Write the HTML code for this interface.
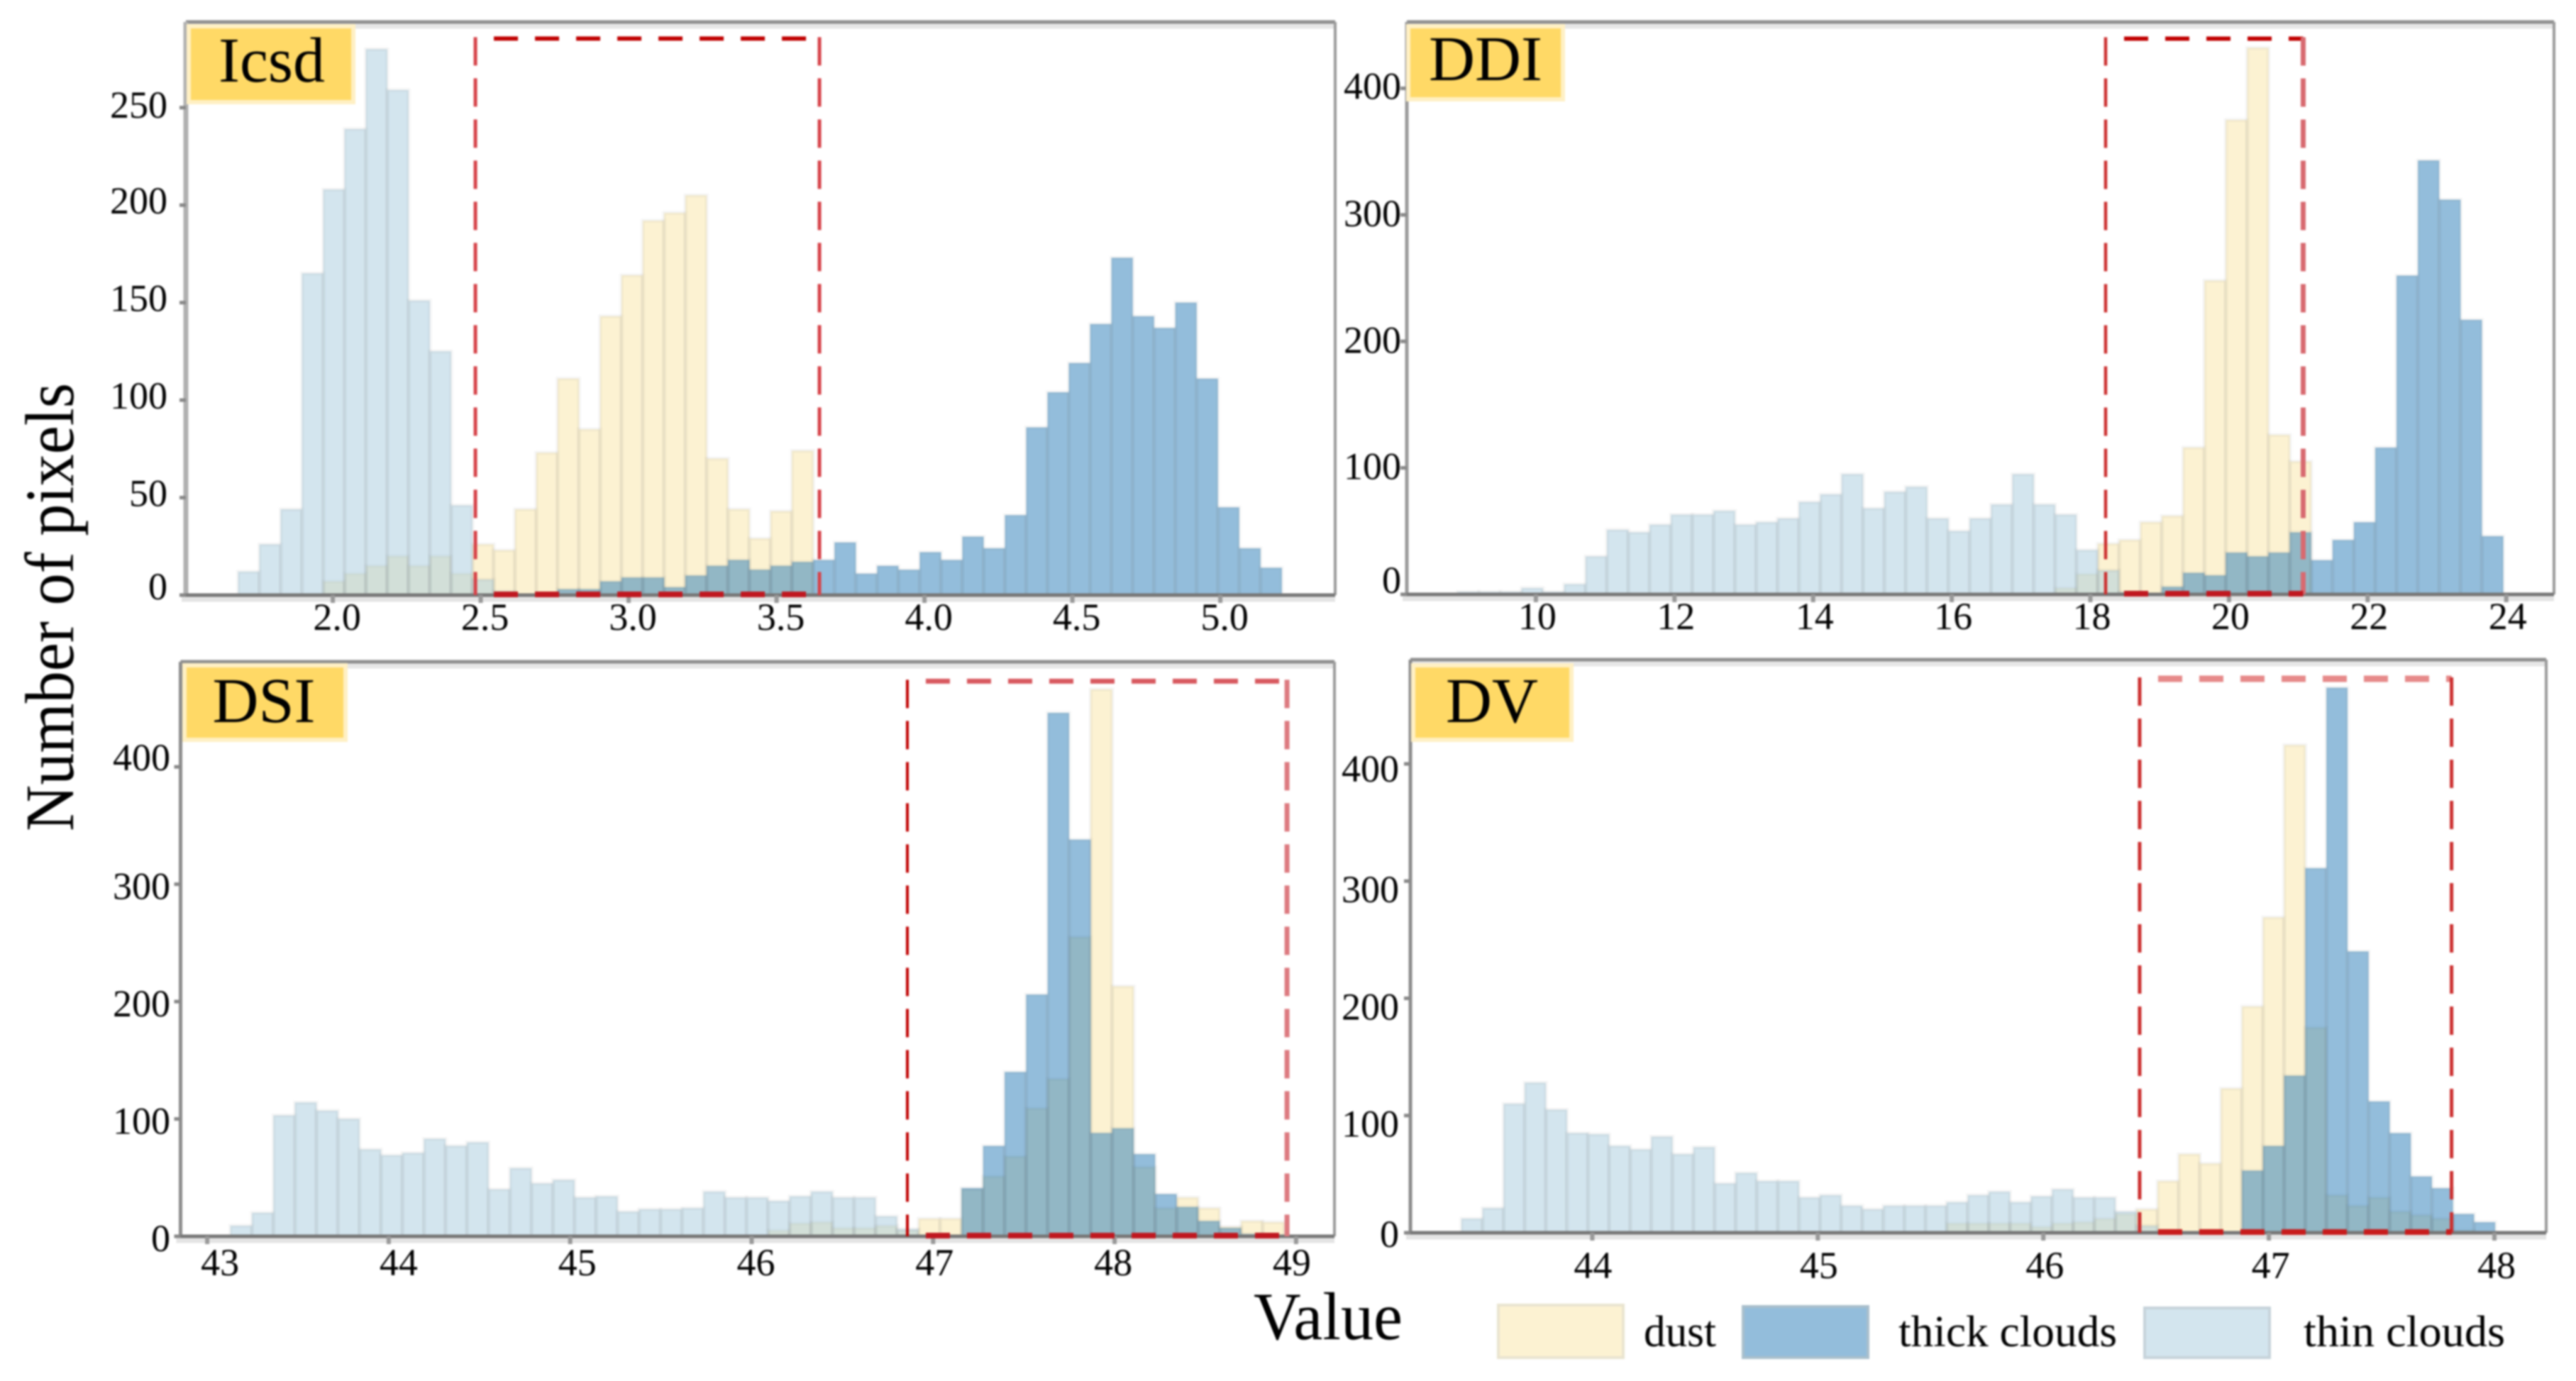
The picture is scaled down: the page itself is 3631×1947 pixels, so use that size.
<!DOCTYPE html>
<html><head><meta charset="utf-8"><title>Histograms</title>
<style>
html,body{margin:0;padding:0;background:#fff;width:3631px;height:1947px;overflow:hidden}
svg{display:block;filter:blur(1.3px)}
text{font-family:"Liberation Serif",serif;fill:#000}
</style></head><body>
<svg id="chart" xmlns="http://www.w3.org/2000/svg" width="3631" height="1947" viewBox="0 0 3631 1947">
<rect width="3631" height="1947" fill="#fff"/>
<g id="plots"></g>
<g><rect x="266" y="37" width="232" height="107" fill="#ffd966" stroke="#fff0c4" stroke-width="6"/><text x="383" y="115" font-size="90" text-anchor="middle">Icsd</text></g>
<g><rect x="1985" y="37" width="218" height="103" fill="#ffd966" stroke="#fff0c4" stroke-width="6"/><text x="2094" y="113" font-size="90" text-anchor="middle">DDI</text></g>
<g><rect x="260" y="938" width="227" height="105" fill="#ffd966" stroke="#fff0c4" stroke-width="6"/><text x="372" y="1018" font-size="90" text-anchor="middle">DSI</text></g>
<g><rect x="1992" y="938" width="223" height="105" fill="#ffd966" stroke="#fff0c4" stroke-width="6"/><text x="2103" y="1018" font-size="90" text-anchor="middle">DV</text></g>
<text transform="translate(103,1172) rotate(-90)" font-size="98" textLength="632" lengthAdjust="spacingAndGlyphs">Number of pixels</text>
<text x="1767" y="1888" font-size="95" textLength="210" lengthAdjust="spacingAndGlyphs">Value</text>
<g>
<rect x="2112" y="1840" width="176" height="74" fill="#fcf2d2" stroke="#e9e4d0" stroke-width="4"/>
<text x="2317" y="1898" font-size="62" textLength="102" lengthAdjust="spacingAndGlyphs">dust</text>
<rect x="2457" y="1842" width="176" height="72" fill="#93bddb" stroke="#a9bfcc" stroke-width="4"/>
<text x="2676" y="1898" font-size="62" textLength="308" lengthAdjust="spacingAndGlyphs">thick clouds</text>
<rect x="3023" y="1844" width="176" height="70" fill="#d3e5ee" stroke="#c6d3da" stroke-width="4"/>
<text x="3247" y="1898" font-size="62" textLength="284" lengthAdjust="spacingAndGlyphs">thin clouds</text>
</g>
</svg>
<script>
// Icsd panel
const icsdXTicks = ["2.0","2.5","3.0","3.5","4.0","4.5","5.0"];
const icsdYTicks = [0,50,100,150,200,250];
const icsdThin = [12,26,44,165,208,239,280,259,151,125,46,8,2,0,0,0,0,0,0,0,0,0,0,0,0,0,0,0,0,0,0,0,0,0,0,0,0,0,0,0,0,0,0,0,0,0,0,0,0];
const icsdDust = [0,0,0,0,7,11,15,20,15,20,11,26,23,44,73,111,85,143,164,192,196,205,70,44,29,43,74,0,0,0,0,0,0,0,0,0,0,0,0,0,0,0,0,0,0,0,0,0,0];
const icsdThick = [0,0,0,0,0,0,0,0,0,0,0,0,0,0,0,3,3,7,9,9,4,10,15,18,13,15,17,18,27,11,15,13,22,18,30,24,41,86,104,119,139,173,143,137,150,111,45,24,14];
// DDI panel
const ddiXTicks = ["10","12","14","16","18","20","22","24"];
const ddiYTicks = [0,100,200,300,400];
const ddiThin = [2,2,2,5,2,8,30,51,49,55,63,63,66,55,57,60,73,79,95,68,81,85,60,50,60,71,95,71,63,35,19,2,0,0,0,0,0,0,0,0,0,0,0,0,0,0,0,0,0];
const ddiDust = [0,0,0,0,0,0,0,0,0,0,0,0,0,0,0,0,0,0,0,0,0,0,0,0,0,0,0,0,5,16,40,43,57,62,116,248,375,432,126,105,0,0,0,0,0,0,0,0,0];
const ddiThick = [0,0,0,0,0,0,0,0,0,0,0,0,0,0,0,0,0,0,0,0,0,0,0,0,0,0,0,0,0,0,0,0,0,6,17,15,33,30,33,49,27,43,57,116,252,343,312,217,46];
// DSI panel
const dsiXTicks = ["43","44","45","46","47","48","49"];
const dsiYTicks = [0,100,200,300,400];
const dsiThin = [9,20,103,114,107,100,74,69,71,83,77,80,40,58,45,48,33,34,21,23,23,24,38,33,33,30,34,38,33,33,17,6,0,0,0,0,0,0,0,0,0,0,0,0,0,0,0,0,0];
const dsiDust = [0,0,0,0,0,0,0,0,0,0,0,0,0,0,0,0,0,0,0,0,0,0,0,0,0,5,11,12,7,7,9,5,15,15,40,51,68,109,134,255,466,213,59,24,33,24,8,13,12];
const dsiThick = [0,0,0,0,0,0,0,0,0,0,0,0,0,0,0,0,0,0,0,0,0,0,0,0,0,0,0,0,0,0,0,0,0,0,41,77,140,206,446,338,88,92,70,36,25,13,7,2,0];
// DV panel
const dvXTicks = ["44","45","46","47","48"];
const dvYTicks = [0,100,200,300,400];
const dvThin = [12,21,110,128,105,85,84,74,71,82,67,73,42,51,44,44,30,32,23,20,23,23,23,26,32,35,26,31,37,30,30,18,6,0,0,0,0,0,0,0,0,0,0,0,0,0,0,0,0];
const dvDust = [0,0,0,0,0,0,0,0,0,0,0,0,0,0,0,0,0,0,0,0,0,0,0,8,8,8,8,5,8,9,12,16,20,44,67,59,123,193,269,416,175,32,23,30,18,15,12,2,0];
const dvThick = [0,0,0,0,0,0,0,0,0,0,0,0,0,0,0,0,0,0,0,0,0,0,0,0,0,0,0,0,0,0,0,0,0,0,0,0,0,53,74,134,311,465,240,112,85,48,38,16,9];

const NS = 'http://www.w3.org/2000/svg';
const plots = document.getElementById('plots');

const panels = [
 {id:'icsd',l:262,r:1882,t:31,b:839,x0:2,xPx:469.1,xK:417,yK:2.749,binStart:1.68,binW:0.0720,
  xTicks:icsdXTicks,yTicks:icsdYTicks,thin:icsdThin,dust:icsdDust,thick:icsdThick,
  lblDy:31,lblA:6,lblB:6,yRight:236,zeroDy:-12,midDy:-6,topDy:-4,box:[2.482,3.645,285.4],spineL:'#b0b0b0',spineW:7,
  side:{top:['#c00000',6],left:['#d6444a',5],right:['#d6444a',5],bottom:['#c01820',8]}},
 {id:'ddi',l:1983,r:3600,t:31,b:838,x0:10,xPx:2164.9,xK:97.7,yK:1.7836,binStart:8.87,binW:0.3079,
  xTicks:ddiXTicks,yTicks:ddiYTicks,thin:ddiThin,dust:ddiDust,thick:ddiThick,
  lblDy:31,lblA:2,lblB:2,yRight:1975,zeroDy:-20,midDy:-2,topDy:-3,box:[18.22,21.07,439.3],spineL:'#9a9a9a',spineW:5,
  side:{top:['#c00000',6],left:['#cc3030',4.5],right:['#d86a70',7],bottom:['#c01820',8]}},
 {id:'dsi',l:254.5,r:1881,t:933,b:1743,x0:43,xPx:292.1,xK:255.8,yK:1.6546,binStart:43.128,binW:0.1185,
  xTicks:dsiXTicks,yTicks:dsiYTicks,thin:dsiThin,dust:dsiDust,thick:dsiThick,
  lblDy:37,lblA:18,lblB:-6,yRight:240,zeroDy:3,midDy:3,topDy:-13,box:[46.858,48.95,473],spineL:'#8c8c8c',spineW:5,
  side:{top:['#d85a60',7],left:['#c00000',4],right:['#dd7a80',7],bottom:['#c01820',8]}},
 {id:'dv',l:1988,r:3589,t:930,b:1738,x0:44,xPx:2244.4,xK:317.9,yK:1.6526,binStart:43.42,binW:0.09354,
  xTicks:dvXTicks,yTicks:dvYTicks,thin:dvThin,dust:dvDust,thick:dvThick,
  lblDy:46,lblA:1,lblB:3,yRight:1972,zeroDy:2,midDy:12,topDy:7,box:[46.427,47.81,472.6],spineL:'#8c8c8c',spineW:5,
  side:{top:['#e68a8a',9],left:['#cc3030',5],right:['#cc3030',5],bottom:['#c81c1c',8]}}
];

function xScale(p,v){ return p.xPx + (v - p.x0) * p.xK; }
function yScale(p,v){ return p.b - v * p.yK; }

function drawBars(p, g, values, color, series){
  values.forEach(function(v,i){
    if(!v) return;
    const x1 = xScale(p, p.binStart + i * p.binW);
    const x2 = xScale(p, p.binStart + (i + 1) * p.binW);
    const r = document.createElementNS(NS,'rect');
    
    
    r.setAttribute('data-series', series);
    r.setAttribute('x', x1);
    r.setAttribute('y', yScale(p,v));
    r.setAttribute('width', x2 - x1);
    r.setAttribute('height', v * p.yK);
    r.setAttribute('fill', color);
    r.setAttribute('fill-opacity', '0.5');
    r.setAttribute('stroke', 'rgba(110,110,110,0.08)');
    r.setAttribute('stroke-width', '5');
    g.appendChild(r);
  });
}
function line(g,x1,y1,x2,y2,color,w,dash,name){
  const s = document.createElementNS(NS,'line');
  
  
  s.setAttribute('x1',x1); s.setAttribute('y1',y1);
  s.setAttribute('x2',x2); s.setAttribute('y2',y2);
  s.setAttribute('stroke',color); s.setAttribute('stroke-width',w);
  if(dash) s.setAttribute('stroke-dasharray',dash);
  g.appendChild(s);
}
function label(g,x,y,txt,anchor,name){
  const t = document.createElementNS(NS,'text');
  
  
  t.setAttribute('x',x); t.setAttribute('y',y);
  t.setAttribute('font-size','54');
  t.setAttribute('text-anchor',anchor);
  t.setAttribute('dominant-baseline','central');
  t.textContent = txt;
  g.appendChild(t);
}

panels.forEach(function(p){
  const g = document.createElementNS(NS,'g');
  
  
  plots.appendChild(g);
  line(g,p.l,p.t+6,p.r,p.t+6,'#e6e6e6',7,null,'top-spine-halo');
  line(g,p.l-6,p.b+5,p.r,p.b+5,'#e4e4e4',9,null,'bottom-spine-halo');
  drawBars(p,g,p.dust,'#f9e5a5','dust');
  drawBars(p,g,p.thick,'#277bb7','thick-clouds');
  drawBars(p,g,p.thin,'#a7cbdd','thin-clouds');
  line(g,p.l,p.t,p.r,p.t,'#8f8f8f',5,null,'top-spine');
  line(g,p.r,p.t,p.r,p.b,'#9a9a9a',4,null,'right-spine');
  line(g,p.l,p.t,p.l,p.b,p.spineL,p.spineW,null,'left-spine');
  line(g,p.l-8,p.b,p.r,p.b,'#777',5,null,'bottom-spine');
  const n = p.xTicks.length;
  p.xTicks.forEach(function(tk,i){
    const x = xScale(p, parseFloat(tk));
    line(g,x,p.b,x,p.b+11,'#999',6,null,'x-tick');
    const off = p.lblA + (p.lblB - p.lblA) * i / (n - 1);
    label(g,x+off,p.b+p.lblDy,tk,'middle','x-tick-label');
  });
  p.yTicks.forEach(function(tk,i){
    const y = yScale(p, tk);
    line(g,p.l-9,y,p.l,y,'#888',5,null,'y-tick');
    const dy = i === 0 ? p.zeroDy : (i === p.yTicks.length - 1 ? p.topDy : p.midDy);
    label(g,p.yRight,y+dy,String(tk),'end','y-tick-label');
  });
  const bx1 = xScale(p,p.box[0]), bx2 = xScale(p,p.box[1]), by = yScale(p,p.box[2]);
  line(g,bx1+26,by,bx2,by,p.side.top[0],p.side.top[1],'34 24','selection-box-top');
  line(g,bx1,by-2,bx1,p.b,p.side.left[0],p.side.left[1],'40 18','selection-box-left');
  line(g,bx2,by-2,bx2,p.b,p.side.right[0],p.side.right[1],'40 18','selection-box-right');
  line(g,bx1+26,p.b-1,bx2,p.b-1,p.side.bottom[0],p.side.bottom[1],'34 24','selection-box-bottom');
});
</script>
</body></html>
